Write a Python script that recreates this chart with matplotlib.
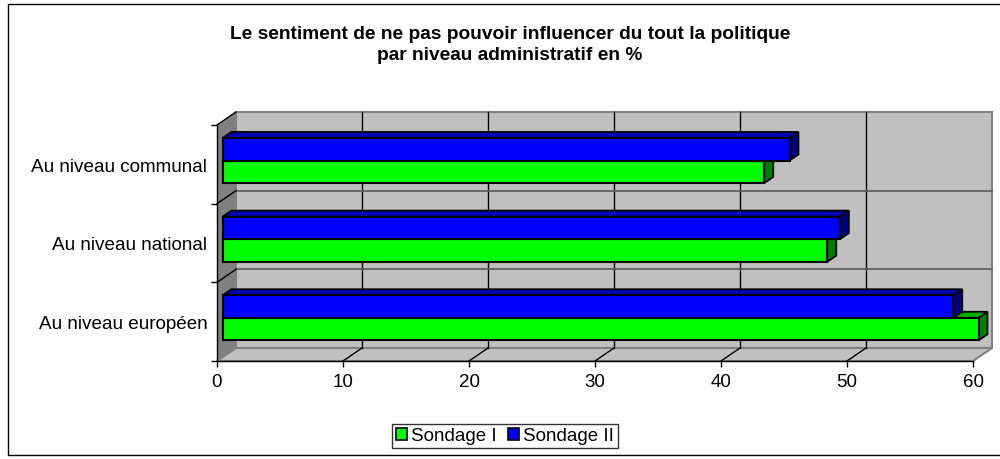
import matplotlib
matplotlib.use("Agg")
import matplotlib.pyplot as plt
from matplotlib.patches import Polygon, Rectangle
from matplotlib.lines import Line2D

# ---------------- data ----------------
categories = ["Au niveau communal", "Au niveau national", "Au niveau européen"]
series_names = ["Sondage I", "Sondage II"]
sondage1 = [43, 48, 60]
sondage2 = [45, 49, 58]
xticks = [0, 10, 20, 30, 40, 50, 60]
title = ("Le sentiment de ne pas pouvoir influencer du tout la politique\n"
         "par niveau administratif en %")

# ---------------- style ----------------
plt.rcParams["font.family"] = ["Liberation Sans", "DejaVu Sans"]
W, H = 1000, 460
fig = plt.figure(figsize=(W / 100, H / 100), dpi=100)

# front plane in pixels
fx0, fx1, fy0, fy1 = 217, 973, 126, 362
ax = fig.add_axes([fx0 / W, 1 - fy1 / H, (fx1 - fx0) / W, (fy1 - fy0) / H])
xmax = xticks[-1]
ncat = len(categories)
ax.set_xlim(0, xmax)
ax.set_ylim(ncat, 0)
ax.patch.set_visible(False)

# depth vector (pixels -> data)
DX = 19 * xmax / (fx1 - fx0)
DY = -13 * ncat / (fy1 - fy0)


def P(x, y, d):
    return (x + d * DX, y + d * DY)


def poly(pts, fc, ec="none", lw=0, z=1):
    ax.add_patch(Polygon(pts, closed=True, facecolor=fc, edgecolor=ec,
                         linewidth=lw, zorder=z, clip_on=False,
                         joinstyle="miter"))


def line(p, q, color, lw=1.0, z=2):
    ax.add_line(Line2D([p[0], q[0]], [p[1], q[1]], color=color, lw=lw,
                       zorder=z, clip_on=False))


wall = "#c0c0c0"
side = "#808080"
# back wall
poly([P(0, 0, 1), P(xmax, 0, 1), P(xmax, ncat, 1), P(0, ncat, 1)], wall, side, 1.5, 1)
# left wall
poly([P(0, 0, 0), P(0, 0, 1), P(0, ncat, 1), P(0, ncat, 0)], side, "none", 0, 1)
# floor
poly([P(0, ncat, 0), P(xmax, ncat, 0), P(xmax, ncat, 1), P(0, ncat, 1)], wall, side, 1.5, 1)

# gridlines on back wall (value axis) + floor diagonals
for t in xticks[1:-1]:
    line(P(t, 0, 1), P(t, ncat, 1), "black", 1.0, 1.5)
    line(P(t, ncat, 0), P(t, ncat, 1), "black", 1.0, 1.5)
# category boundaries on back wall + left wall diagonals
for k in range(1, ncat):
    line(P(0, k, 1), P(xmax, k, 1), "#606060", 1.3, 1.5)
    line(P(0, k, 0), P(0, k, 1), "black", 1.0, 1.5)
# top edge of left wall
line(P(0, 0, 0), P(0, 0, 1), "black", 1.0, 1.6)

# ---------------- bars ----------------
D0, D1 = 0.29, 0.76
bh = 22.5 * ncat / (fy1 - fy0)
front_cols = ["#00ff00", "#0000ff"]
top_cols = ["#00b000", "#0000b4"]
side_cols = ["#008000", "#000080"]
series = [sondage1, sondage2]

for i in range(ncat):
    c = i + 0.5
    # series 0 (green) below, series 1 (blue) above; draw green first
    for s in (0, 1):
        v = series[s][i]
        if s == 0:
            y_top, y_bot = c, c + bh
        else:
            y_top, y_bot = c - bh, c
        z = 3 + s + i * 0.01
        # top face
        poly([P(0, y_top, D0), P(v, y_top, D0), P(v, y_top, D1), P(0, y_top, D1)],
             top_cols[s], "black", 1.3, z)
        # right face
        poly([P(v, y_top, D0), P(v, y_bot, D0), P(v, y_bot, D1), P(v, y_top, D1)],
             side_cols[s], "black", 1.3, z)
        # front face
        poly([P(0, y_top, D0), P(v, y_top, D0), P(v, y_bot, D0), P(0, y_bot, D0)],
             front_cols[s], "black", 1.5, z)

# ---------------- axes ----------------
for sp in ("top", "right"):
    ax.spines[sp].set_visible(False)
for sp in ("left", "bottom"):
    ax.spines[sp].set_color("black")
    ax.spines[sp].set_linewidth(1.0)
    ax.spines[sp].set_zorder(2)

ax.set_xticks(xticks)
ax.set_xticklabels([str(t) for t in xticks], fontsize=13.5)
ax.tick_params(axis="x", length=4, width=1, pad=5, direction="out")

ax.set_yticks([i + 0.5 for i in range(ncat)])
ax.set_yticklabels(categories, fontsize=13.6)
ax.set_yticks(range(ncat + 1), minor=True)
ax.tick_params(axis="y", which="major", length=0, pad=7)
ax.tick_params(axis="y", which="minor", length=4, width=1, direction="out")

# ---------------- title ----------------
fig.text(510 / W, 1 - 45 / H, title, ha="center", va="center",
         fontsize=13.8, fontweight="bold", linespacing=1.29)

# ---------------- legend ----------------
handles = [Rectangle((0, 0), 1, 1, facecolor=front_cols[s], edgecolor="black", lw=1.2)
           for s in range(2)]
leg = fig.legend(handles, series_names, loc="center", bbox_to_anchor=(505 / W, 1 - 437 / H),
                 ncol=2, fontsize=13.5, frameon=True, fancybox=False,
                 handlelength=0.6, handleheight=0.6, handletextpad=0.2,
                 columnspacing=0.6, borderpad=0.2, borderaxespad=0)
leg.get_frame().set_edgecolor("black")
leg.get_frame().set_linewidth(1.0)

# ---------------- outer border ----------------
fig.add_artist(Rectangle((8 / W, 1 - 456 / H), 1.2, (456 - 5) / H,
                         transform=fig.transFigure, fill=False,
                         edgecolor="black", lw=1.0))

fig.savefig("out.png", dpi=100, facecolor="white")
